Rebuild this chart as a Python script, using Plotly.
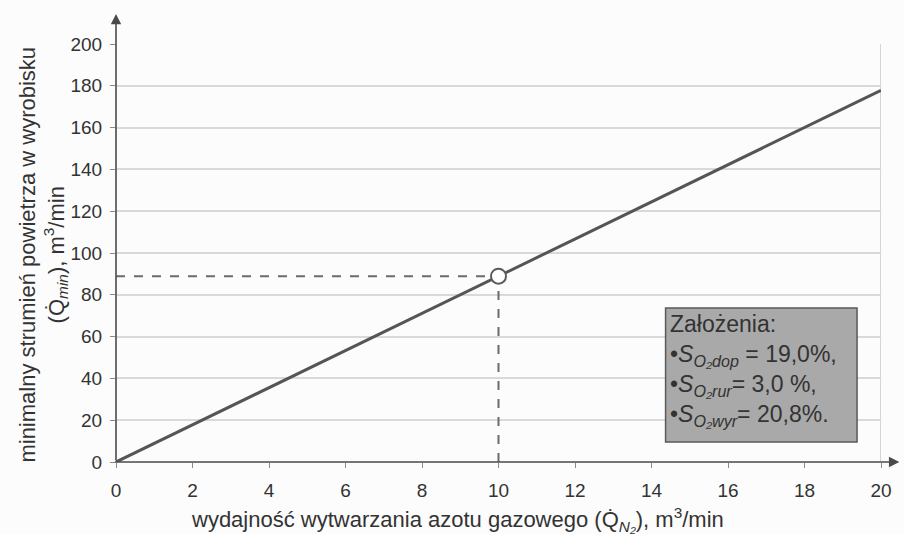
import plotly.graph_objects as go

# Nitrogen production rate (m3/min) and the resulting minimum airflow (m3/min)
q_n2 = [0, 20]
q_min = [0, 177.8]

# Reading point marked on the line
point_x = [10]
point_y = [88.9]

x_ticks = [0, 2, 4, 6, 8, 10, 12, 14, 16, 18, 20]
y_ticks = [0, 20, 40, 60, 80, 100, 120, 140, 160, 180, 200]

FONT = "Liberation Sans, Arial, sans-serif"
TEXT = "#333333"
AXIS = "#4a4a4a"

fig = go.Figure()

# dashed guide lines to the axes
fig.add_trace(go.Scatter(x=[0, point_x[0]], y=[point_y[0], point_y[0]], mode="lines",
                         line=dict(color="#6b6b6b", width=2, dash="dash"), hoverinfo="skip"))
fig.add_trace(go.Scatter(x=[point_x[0], point_x[0]], y=[0, point_y[0]], mode="lines",
                         line=dict(color="#6b6b6b", width=2, dash="dash"), hoverinfo="skip"))

# main relationship
fig.add_trace(go.Scatter(x=q_n2, y=q_min, mode="lines",
                         line=dict(color="#555555", width=3)))

# marked point
fig.add_trace(go.Scatter(x=point_x, y=point_y, mode="markers",
                         marker=dict(size=15, color="white",
                                     line=dict(color="#5a5a5a", width=2))))

# right frame edge
fig.add_shape(type="line", x0=20, x1=20, y0=0, y1=200, xref="x", yref="y",
              line=dict(color="#c8c8c8", width=1.5), layer="below")

# assumptions box
fig.add_shape(type="rect", xref="paper", yref="paper",
              x0=0.7184, x1=0.9687, y0=0.0478, y1=0.3684,
              fillcolor="#a9a9a9", line=dict(color="#5a5a5a", width=1.5))

box_text = ("Założenia:<br>"
            "•<i>S</i><sub><i>O₂dop</i></sub> = 19,0%,<br>"
            "•<i>S</i><sub><i>O₂rur</i></sub>= 3,0 %,<br>"
            "•<i>S</i><sub><i>O₂wyr</i></sub>= 20,8%.")
fig.add_annotation(text=box_text, xref="paper", yref="paper", x=0.722, y=0.365,
                   xanchor="left", yanchor="top", align="left", showarrow=False,
                   font=dict(family=FONT, size=23, color=TEXT))

# axis arrows
fig.add_annotation(x=0, y=1.072, xref="x", yref="paper", ax=0, ay=448,
                   axref="pixel", ayref="pixel", showarrow=True,
                   arrowhead=2, arrowsize=1.3, arrowwidth=1.6, arrowcolor=AXIS, text="")
fig.add_annotation(x=1.024, y=0, xref="paper", yref="y", ax=-786, ay=0,
                   axref="pixel", ayref="pixel", showarrow=True,
                   arrowhead=2, arrowsize=1.3, arrowwidth=1.6, arrowcolor=AXIS, text="")

# axis titles
fig.add_annotation(text="minimalny strumień powietrza w wyrobisku<br>(Q̇<sub><i>min</i></sub>), m<sup>3</sup>/min",
                   xref="paper", yref="paper", x=-0.095, y=0.497, textangle=-90,
                   xanchor="center", yanchor="middle", showarrow=False,
                   font=dict(family=FONT, size=22, color=TEXT))
fig.add_annotation(text="wydajność wytwarzania azotu gazowego (Q̇<sub><i>N₂</i></sub>), m<sup>3</sup>/min",
                   xref="paper", yref="paper", x=0.447, y=-0.137,
                   xanchor="center", yanchor="middle", showarrow=False,
                   font=dict(family=FONT, size=22, color=TEXT))

fig.update_layout(
    width=904, height=534,
    margin=dict(l=116, r=21, t=44, b=72),
    paper_bgcolor="#fcfcfc", plot_bgcolor="#fcfcfc",
    showlegend=False,
    font=dict(family=FONT, color=TEXT),
)
fig.update_xaxes(range=[0, 20], tickvals=x_ticks, showgrid=False, zeroline=False,
                 showline=False, ticks="outside", ticklen=5, tickcolor="#8a8a8a",
                 tickfont=dict(size=19, color=TEXT), ticklabelstandoff=6)
fig.update_yaxes(range=[0, 200], tickvals=y_ticks, showgrid=True, gridcolor="#d9d9d9",
                 gridwidth=1.5, zeroline=False, showline=False, ticks="outside",
                 ticklen=5, tickcolor="#8a8a8a", tickfont=dict(size=19, color=TEXT),
                 ticklabelstandoff=4)

fig.write_html("out.html")
